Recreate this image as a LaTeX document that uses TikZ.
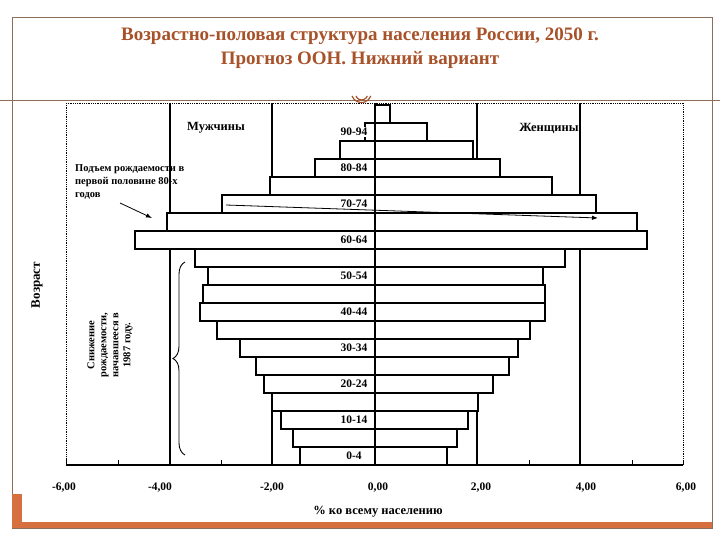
\documentclass[tikz,border=0pt]{standalone}
\usepackage{fontspec}
\setmainfont{Liberation Serif}
\usetikzlibrary{decorations.pathreplacing,arrows.meta}
\definecolor{ttl}{RGB}{168,82,42}
\definecolor{frm}{RGB}{140,110,90}
\definecolor{org}{RGB}{214,112,62}
\begin{document}
\begin{tikzpicture}[x=1pt,y=-1pt,
  bar/.style={draw=black,line width=1.8pt,fill=white},
  grid/.style={draw=black,line width=1.6pt},
  lbl/.style={font=\fontsize{11.5}{13}\selectfont\bfseries},
  tick/.style={font=\fontsize{11.5}{13}\selectfont\bfseries}]
\useasboundingbox (0,0) rectangle (720,540);
\fill[white] (0,0) rectangle (720,540);
% frame
\draw[frm,line width=0.6pt] (12,17) rectangle (712,528);
\draw[frm,line width=0.6pt] (0,100) -- (720,100);
\fill[org] (12,494) rectangle (22,528);
\fill[org] (12,522) rectangle (712,528);
% title
\node[ttl,font=\fontsize{19}{24}\selectfont\bfseries,align=center] (title) at (360,48)
  {Возрастно-половая структура населения России, 2050 г.\\Прогноз ООН. Нижний вариант};
\draw[ttl,line width=1.2pt] (352,96) arc (160:20:10);
\draw[ttl,line width=1.2pt] (356,96) arc (160:20:6);
% plot frame
\draw[densely dotted,line width=0.8pt] (66,103) -- (683,103) -- (683,465);
\draw[densely dotted,line width=0.8pt] (66,103) -- (66,465);
\draw[line width=1.4pt] (66,465) -- (683,465);
\foreach \x in {66,118,170,221,272,324,375,426,477,529,580,632,683}
  \draw[line width=1pt] (\x,465) -- (\x,460);
% grid lines
\foreach \x in {170,272,477,580} \draw[grid] (\x,103) -- (\x,465);
% bars: row, left, right
\foreach \i/\l/\r in {0/300/447,1/293/457,2/281/468,3/272/478,4/264/493,5/256/509,6/240/518,7/217/530,8/200/545,9/203/545,10/208/543,11/195/565,12/135/647,13/167/637,14/222/596,15/270/552,16/315/500,17/340/473,18/365/427,19/375/390}
  \draw[bar] (\l,{465-18*(\i+1)}) rectangle (\r,{465-18*\i});
\draw[line width=1.6pt] (375,103) -- (375,465);
% age labels
\foreach \i/\t in {0/0-4,2/10-14,4/20-24,6/30-34,8/40-44,10/50-54,12/60-64,14/70-74,16/80-84,18/90-94}
  \node[lbl,fill=white,inner sep=1pt] (age\i) at (354,{465-18*\i-9}) {\t};
\node[lbl,font=\fontsize{12.5}{14}\selectfont\bfseries] (men) at (216,128) {Мужчины};
\node[lbl,font=\fontsize{12.5}{14}\selectfont\bfseries] (women) at (549,128) {Женщины};
% annotation
\node[font=\fontsize{10.5}{13}\selectfont\bfseries,align=left,anchor=north west,inner sep=0pt] (rise) at (75,164)
  {Подъем рождаемости в\\первой половине 80-х\\годов};
\coordinate (ra) at (152,218);
\coordinate (rb) at (598,218);
\draw[line width=0.8pt,-{Latex[length=6pt]}] (120,203) -- (ra);
\draw[line width=0.8pt,-{Latex[length=6pt]}] (226,205) -- (rb);
% brace
\draw[line width=0.9pt,decorate,decoration={brace,amplitude=12pt}] (185,455) -- (185,262);
\node[font=\fontsize{10.5}{12}\selectfont\bfseries,align=center,rotate=90] (fall) at (110,345)
  {Снижение\\рождаемости,\\начавшееся в\\1987 году.};
\node[font=\fontsize{13}{14}\selectfont\bfseries,rotate=90] (yaxis) at (37,285) {Возраст};
% tick labels
\foreach \x/\t in {64/{-6,00},160/{-4,00},272/{-2,00},378/{0,00},481/{2,00},586/{4,00},686/{6,00}}
  \node[tick] at (\x,488) {\t};
\node[tick,font=\fontsize{12.5}{14}\selectfont\bfseries] (xaxis) at (378,512) {\% ко всему населению};
\end{tikzpicture}
\end{document}
